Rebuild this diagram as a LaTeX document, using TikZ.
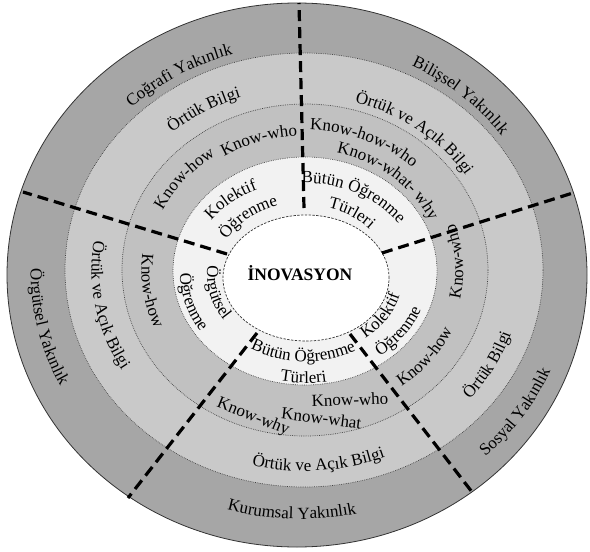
\documentclass[tikz,border=0pt]{standalone}
\usepackage{fontspec}
\setmainfont{Liberation Serif}
\usetikzlibrary{decorations.text,calc}
\definecolor{bandA}{HTML}{A6A6A6}
\definecolor{bandB}{HTML}{C9C9C9}
\definecolor{bandC}{HTML}{C1C1C1}
\definecolor{bandD}{HTML}{F2F2F2}
\newcommand\lblfont{\fontsize{17}{20}\selectfont}
% clockwise arc label (tops outward): cx, cy (image coords), rx, ry, mid angle, text
\newcommand\cwlabel[6]{\path[decorate,decoration={text along path,text align=center,text={|\lblfont|#6}}]
  ($(#1,-#2)+({#5+50}:{#3} and {#4})$) arc[start angle={#5+50},end angle={#5-50},x radius=#3,y radius=#4];}
% counter-clockwise arc label (tops inward)
\newcommand\ccwlabel[6]{\path[decorate,decoration={text along path,text align=center,text={|\lblfont|#6}}]
  ($(#1,-#2)+({#5-50}:{#3} and {#4})$) arc[start angle={#5-50},end angle={#5+50},x radius=#3,y radius=#4];}
\tikzset{
  ringline/.style={draw=black!75,line width=0.7pt,dash pattern=on 0.7pt off 1.1pt},
  innerline/.style={draw=black!80,line width=0.7pt,dash pattern=on 2.4pt off 1.4pt},
  divider/.style={draw=black,line width=3.2pt,dash pattern=on 11pt off 6pt},
  plain/.style={font=\lblfont,inner sep=0pt}
}
\begin{document}
\begin{tikzpicture}[x=1pt,y=1pt]
\useasboundingbox (0,0) rectangle (590,-552);
% rings
\draw[fill=bandA,draw=black!80,line width=0.8pt] (297,-275) ellipse [x radius=290,y radius=272];
\path[fill=bandB] (304,-270) ellipse [x radius=239,y radius=217];
\path[ringline] (304,-270) ellipse [x radius=239,y radius=217];
\path[fill=bandC] (305,-270) ellipse [x radius=183,y radius=166];
\path[ringline] (305,-270) ellipse [x radius=183,y radius=166];
\path[fill=bandD] (305,-271) ellipse [x radius=132,y radius=114];
\path[ringline] (305,-271) ellipse [x radius=132,y radius=114];
\path[fill=white] (306,-278) ellipse [x radius=83,y radius=63];
\path[innerline] (306,-278) ellipse [x radius=83,y radius=63];
% dividers
\coordinate (d1a) at (304,-208); \coordinate (d1b) at (299,-3);
\coordinate (d2a) at (382,-253); \coordinate (d2b) at (576,-192);
\coordinate (d3a) at (350,-334); \coordinate (d3b) at (472,-492);
\coordinate (d4a) at (257,-333); \coordinate (d4b) at (128,-498);
\coordinate (d5a) at (227,-254); \coordinate (d5b) at (23,-192);
\draw[divider] (d1a) -- (d1b);
\draw[divider] (d2a) -- (d2b);
\draw[divider] (d3a) -- (d3b);
\draw[divider] (d4a) -- (d4b);
\draw[divider] (d5a) -- (d5b);
% ring 1
\cwlabel{300.5}{272.5}{245.5}{227}{120.75}{Coğrafi Yakınlık}
\cwlabel{300.5}{272.5}{249.6}{230.8}{48.8}{Bilişsel Yakınlık}
\ccwlabel{300.5}{272.5}{269.8}{249.7}{192.6}{Örgütsel Yakınlık}
\ccwlabel{300.5}{272.5}{266.7}{246.5}{268}{Kurumsal Yakınlık}
\ccwlabel{300.5}{272.5}{271.6}{251.5}{-33.9}{Sosyal Yakınlık}
% ring 2
\cwlabel{304.5}{270}{201}{181.9}{121.1}{Örtük Bilgi}
\cwlabel{304.5}{270}{191.9}{173.7}{52.6}{Örtük ve Açık Bilgi}
\ccwlabel{304.5}{270}{213}{193.8}{190.7}{Örtük ve Açık Bilgi}
\ccwlabel{304.5}{270}{221.6}{201}{274}{Örtük ve Açık Bilgi}
\ccwlabel{304.5}{270}{218}{198.5}{-28.4}{Örtük Bilgi}
% ring 3
\cwlabel{305}{270.5}{157.7}{139.6}{141.3}{Know-how}
\cwlabel{305}{270.5}{152.2}{134.7}{108.5}{Know-who}
\cwlabel{305}{270.5}{158.6}{140.5}{66.6}{Know-how-who}
\cwlabel{305}{270.5}{137.1}{121.3}{49.1}{Know-what- why}
\ccwlabel{305}{270.5}{163.5}{145.9}{187.9}{Know-how}
\ccwlabel{305}{270.5}{158.3}{141.2}{3.6}{Know-who}
\ccwlabel{305}{270.5}{162}{144.6}{-37.3}{Know-how}
\node[plain,rotate=2] (kwho) at (350,-399.5) {Know-who};
\node[plain,rotate=-7] (kwhat) at (321.5,-418) {Know-what};
\node[plain,rotate=-22] (kwhy) at (253,-417) {Know-why};
% ring 4
\cwlabel{305.5}{274.5}{115}{93.8}{132.8}{Kolektif}
\cwlabel{305.5}{274.5}{89.4}{72.7}{132.3}{Öğrenme}
\cwlabel{305.5}{274.5}{112.2}{91.5}{61.2}{Bütün Öğrenme}
\cwlabel{305.5}{274.5}{84.8}{68.9}{55}{Türleri}
\ccwlabel{305.5}{274.5}{98.5}{82}{192.8}{Örgütsel}
\ccwlabel{305.5}{274.5}{125.4}{104.1}{194.9}{Öğrenme}
\ccwlabel{305.5}{274.5}{97.5}{81.1}{-31.1}{Kolektif}
\ccwlabel{305.5}{274.5}{123.3}{102.4}{-34}{Öğrenme}
\ccwlabel{305.5}{274.5}{105.7}{87}{268.5}{Bütün Öğrenme}
\ccwlabel{305.5}{274.5}{125}{108.5}{269}{Türleri}
% centre
\node[font=\fontsize{17.5}{20}\selectfont\bfseries,anchor=base,inner sep=0pt] (ino) at (300,-280) {İNOVASYON};
\end{tikzpicture}
\end{document}
